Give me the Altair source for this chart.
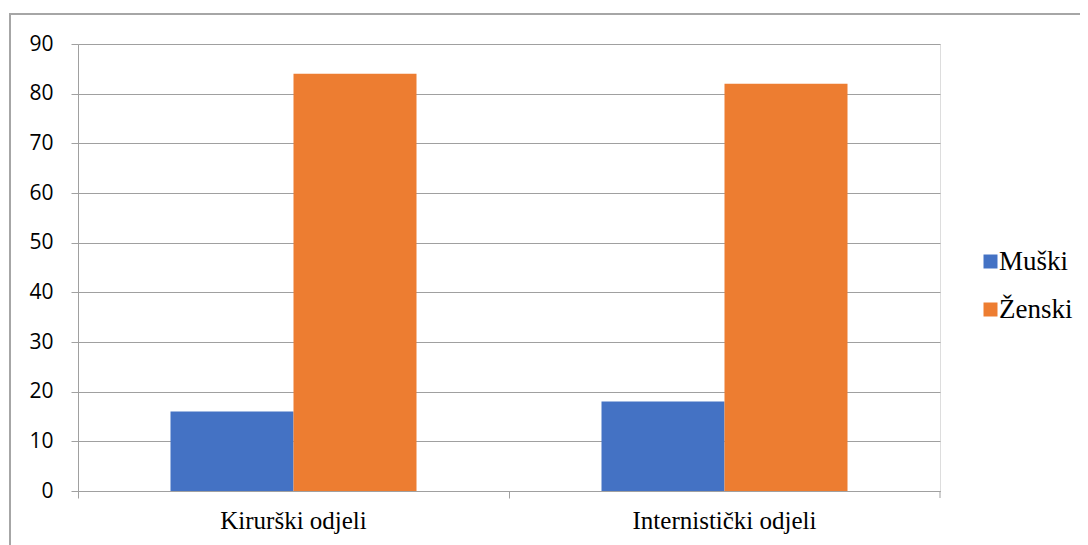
import altair as alt
import pandas as pd

categories = ["Kirurški odjeli", "Internistički odjeli"]
series = ["Muški", "Ženski"]
muski = [16, 18]
zenski = [84, 82]
colors = ["#4472C4", "#ED7D31"]
y_ticks = [0, 10, 20, 30, 40, 50, 60, 70, 80, 90]

rows = []
for i, c in enumerate(categories):
    rows.append({"odjel": c, "spol": series[0], "v": muski[i]})
    rows.append({"odjel": c, "spol": series[1], "v": zenski[i]})
df = pd.DataFrame(rows)

W, H = 862, 447
grid = "#a0a0a0"
serif = "'Liberation Serif', 'Times New Roman', serif"

bars = alt.Chart(df).mark_bar(stroke=None).encode(
    x=alt.X("odjel:N", sort=categories, title=None,
            scale=alt.Scale(paddingInner=0, paddingOuter=0),
            axis=alt.Axis(bandPosition=0, labelAngle=0, labelFont=serif,
                          labelFontSize=25, labelColor="#000", labelPadding=10,
                          labelLimit=400,
                          tickSize=7, tickColor=grid, domainColor=grid, grid=False)),
    xOffset=alt.XOffset("spol:N", sort=series,
                        scale=alt.Scale(paddingOuter=0.752, paddingInner=0)),
    y=alt.Y("v:Q", title=None,
            scale=alt.Scale(domain=[0, 90], nice=False),
            axis=alt.Axis(values=y_ticks, labelFont="Open Sans", labelFontSize=21,
                          labelColor="#000", labelPadding=18, tickSize=7,
                          tickColor=grid, domainColor=grid, gridColor=grid)),
    color=alt.Color("spol:N", sort=series,
                    scale=alt.Scale(domain=series, range=colors),
                    legend=alt.Legend(title=None, orient="none", legendX=899, legendY=204,
                                      symbolType="square", symbolSize=196,
                                      symbolStrokeWidth=0, labelFont=serif,
                                      labelFontSize=27, labelColor="#000", labelLimit=300,
                                      rowPadding=20, labelOffset={"expr": "-5"})),
)

end_tick = alt.Chart(pd.DataFrame({"k": [0]})).mark_rule(color=grid).encode(
    x=alt.value(W), y=alt.value(H), y2=alt.value(H + 7)
)

frame = alt.Chart(pd.DataFrame({"k": [0]})).mark_rect(
    fill=None, stroke="#a6a6a6", strokeWidth=2, clip=False
).encode(
    x=alt.value(-68), x2=alt.value(1200), y=alt.value(-30), y2=alt.value(700)
)

chart = alt.layer(frame, bars, end_tick).properties(
    width=W, height=H,
    autosize=alt.AutoSizeParams(type="none"),
    padding={"left": 70, "top": 36, "right": 140, "bottom": 54},
).configure_view(stroke=None).configure(background="white")

chart.save("out.html", embed_options={"renderer": "svg", "actions": False})
